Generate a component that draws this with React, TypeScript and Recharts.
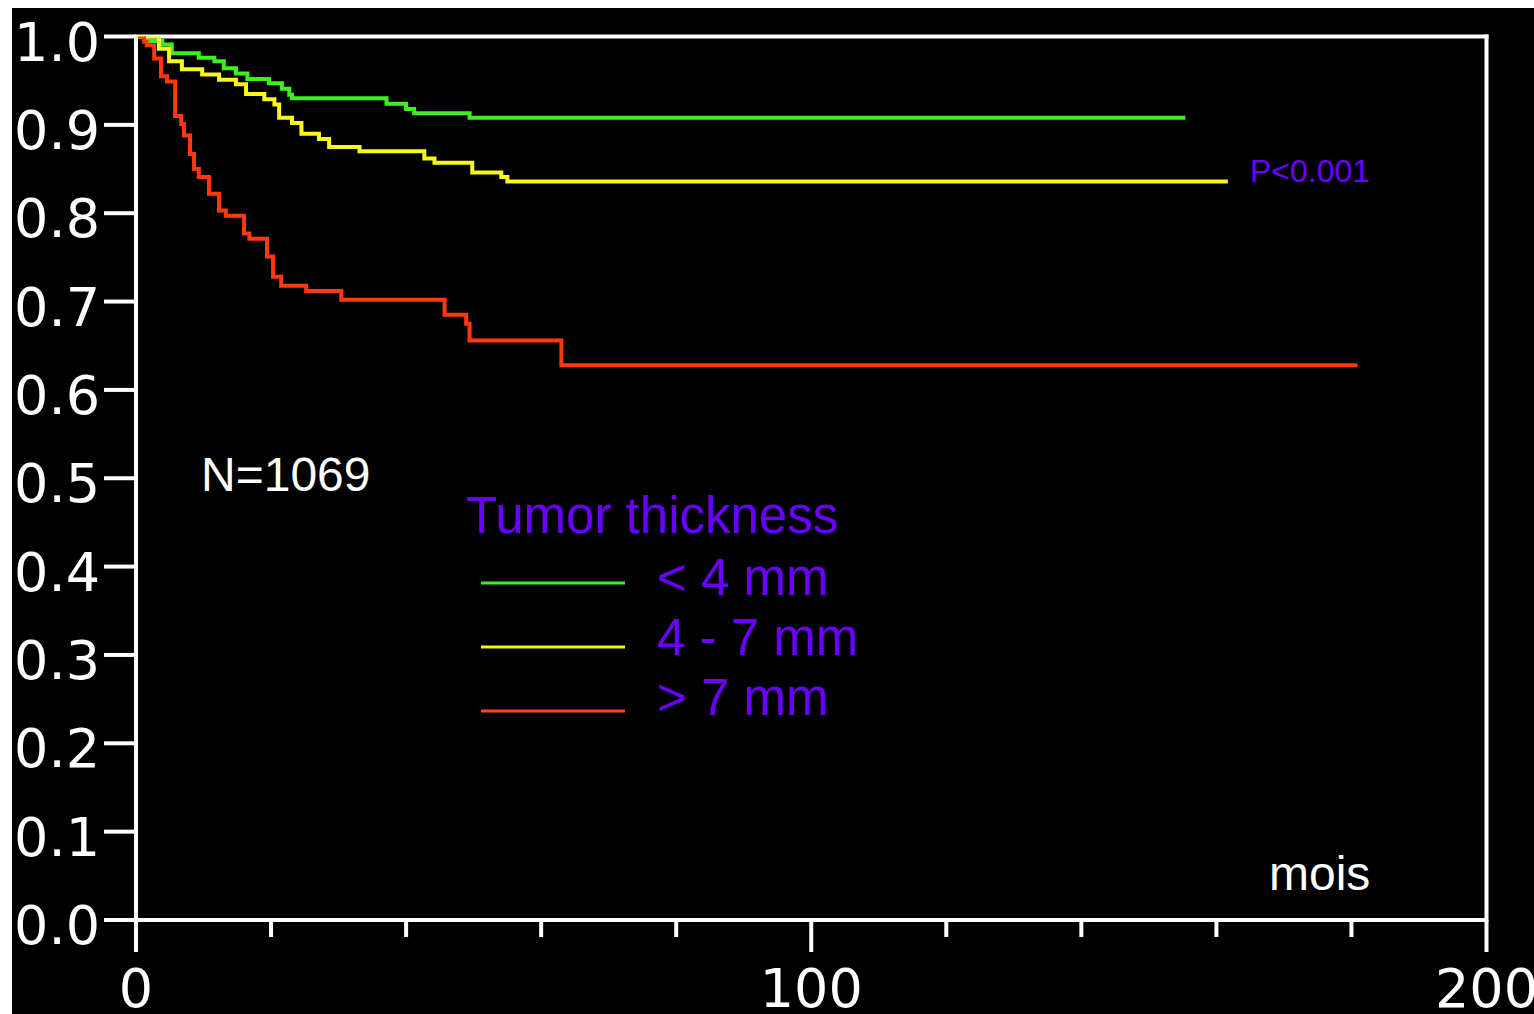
import React from 'react';
import { LineChart, Line, XAxis, YAxis, ReferenceLine } from 'recharts';

// ---- axis ticks ----
const xTicks = [0, 20, 40, 60, 80, 100, 120, 140, 160, 180, 200];
const xLabeled = [0, 100, 200];
const yTicks = [0, 0.1, 0.2, 0.3, 0.4, 0.5, 0.6, 0.7, 0.8, 0.9, 1.0];

// ---- series: < 4 mm ----
const thinT = [0, 1.5, 3.9, 5.3, 9.3, 11.6, 13.0, 14.8, 16.5, 19.7, 21.6, 22.7, 23.1, 37.1, 40.0, 41.2, 49.4, 155.4];
const thinV = [1.0, 0.995, 0.991, 0.981, 0.976, 0.972, 0.964, 0.958, 0.952, 0.947, 0.941, 0.934, 0.930, 0.924, 0.918, 0.913, 0.908, 0.908];

// ---- series: 4 - 7 mm ----
const midT = [0, 3.4, 4.9, 6.8, 9.8, 12.3, 14.8, 16.3, 19.0, 20.5, 21.2, 23.1, 24.5, 27.1, 28.6, 33.1, 42.7, 44.2, 49.8, 54.1, 55.0, 161.7];
const midV = [1.0, 0.986, 0.972, 0.963, 0.957, 0.951, 0.946, 0.935, 0.929, 0.923, 0.908, 0.902, 0.890, 0.884, 0.875, 0.870, 0.862, 0.857, 0.846, 0.841, 0.836, 0.836];

// ---- series: > 7 mm ----
const thickT = [0, 1.2, 1.6, 2.7, 3.7, 4.6, 5.8, 6.7, 7.1, 8.0, 8.6, 9.3, 10.8, 12.3, 13.3, 16.0, 16.8, 19.4, 20.3, 21.5, 25.2, 30.4, 45.7, 48.9, 49.4, 63.0, 180.9];
const thickV = [1.0, 0.994, 0.990, 0.975, 0.955, 0.949, 0.910, 0.901, 0.888, 0.867, 0.850, 0.841, 0.822, 0.803, 0.797, 0.777, 0.771, 0.751, 0.728, 0.718, 0.712, 0.702, 0.685, 0.675, 0.656, 0.628, 0.628];

const seriesNames = ['< 4 mm', '4 - 7 mm', '> 7 mm'];
const seriesColors = ['#3cf21e', '#f8f81c', '#ff3a0a'];
const legendColors = ['#3cf21e', '#f0f81c', '#ff4a0a'];

const toSeries = (t: number[], v: number[]) => t.map((tt, i) => ({ t: tt, v: v[i] }));
const series = [toSeries(thinT, thinV), toSeries(midT, midV), toSeries(thickT, thickV)];

const W = 1522;
const H = 1006;
const PURPLE = '#6a00ff';
const AXIS_FONT = '"DejaVu Sans", Verdana, sans-serif';
const TEXT_FONT = '"Liberation Sans", Arial, sans-serif';

const XTick = (props: any) => {
  const { x, y, payload } = props;
  const major = xLabeled.includes(payload.value);
  return (
    <g>
      <line x1={x} x2={x} y1={y} y2={y + (major ? 32 : 17)} stroke="#fff" strokeWidth={4} />
      {major && (
        <text x={x} y={y + 87} textAnchor="middle" fill="#fff" fontSize={54} fontFamily={AXIS_FONT}>
          {String(payload.value)}
        </text>
      )}
    </g>
  );
};

const YTick = (props: any) => {
  const { x, y, payload } = props;
  return (
    <g>
      <line x1={x - 32} x2={x} y1={y} y2={y} stroke="#fff" strokeWidth={4} />
      <text x={x - 36} y={y + 24} textAnchor="end" fill="#fff" fontSize={54} fontFamily={AXIS_FONT}>
        {Number(payload.value).toFixed(1)}
      </text>
    </g>
  );
};

export default function App() {
  return (
    <div
      style={{
        position: 'absolute',
        left: 12,
        top: 8,
        width: W,
        height: H,
        background: '#000',
        overflow: 'hidden',
      }}
    >
      <LineChart
        width={W}
        height={H}
        margin={{ top: 28.5, right: 47.5, bottom: 0, left: 0 }}
        style={{ background: '#000' }}
      >
        <XAxis
          dataKey="t"
          type="number"
          domain={[0, 200]}
          ticks={xTicks}
          interval={0}
          allowDataOverflow
          height={94}
          tickSize={0}
          tickMargin={0}
          tickLine={false}
          axisLine={{ stroke: '#fff', strokeWidth: 4 }}
          tick={<XTick />}
        />
        <YAxis
          type="number"
          domain={[0, 1]}
          ticks={yTicks}
          interval={0}
          allowDataOverflow
          width={124}
          tickSize={0}
          tickMargin={0}
          tickLine={false}
          axisLine={{ stroke: '#fff', strokeWidth: 4 }}
          tick={<YTick />}
        />
        <ReferenceLine y={1} stroke="#fff" strokeWidth={4} strokeLinecap="square" />
        <ReferenceLine x={200} stroke="#fff" strokeWidth={4} strokeLinecap="square" />
        {series.map((d, i) => (
          <Line
            key={seriesNames[i]}
            data={d}
            dataKey="v"
            name={seriesNames[i]}
            type="stepAfter"
            stroke={seriesColors[i]}
            strokeWidth={4}
            dot={false}
            activeDot={false}
            isAnimationActive={false}
          />
        ))}
      </LineChart>
      <svg
        width={W}
        height={H}
        style={{ position: 'absolute', left: 0, top: 0, pointerEvents: 'none' }}
      >
        <text x={189} y={483} fill="#fff" fontSize={48} fontFamily={TEXT_FONT}>N=1069</text>
        <text x={454} y={525} fill={PURPLE} fontSize={51} fontFamily={TEXT_FONT}>Tumor thickness</text>
        {seriesNames.map((n, i) => (
          <g key={n}>
            <line x1={469} x2={613} y1={575 + i * 64} y2={575 + i * 64} stroke={legendColors[i]} strokeWidth={3} />
            <text x={645} y={587 + i * 60} fill={PURPLE} fontSize={51} fontFamily={TEXT_FONT}>{n}</text>
          </g>
        ))}
        <text x={1238} y={174} fill={PURPLE} fontSize={32} fontFamily={TEXT_FONT}>P&lt;0.001</text>
        <text x={1257} y={882} fill="#fff" fontSize={48} fontFamily={TEXT_FONT}>mois</text>
      </svg>
    </div>
  );
}
